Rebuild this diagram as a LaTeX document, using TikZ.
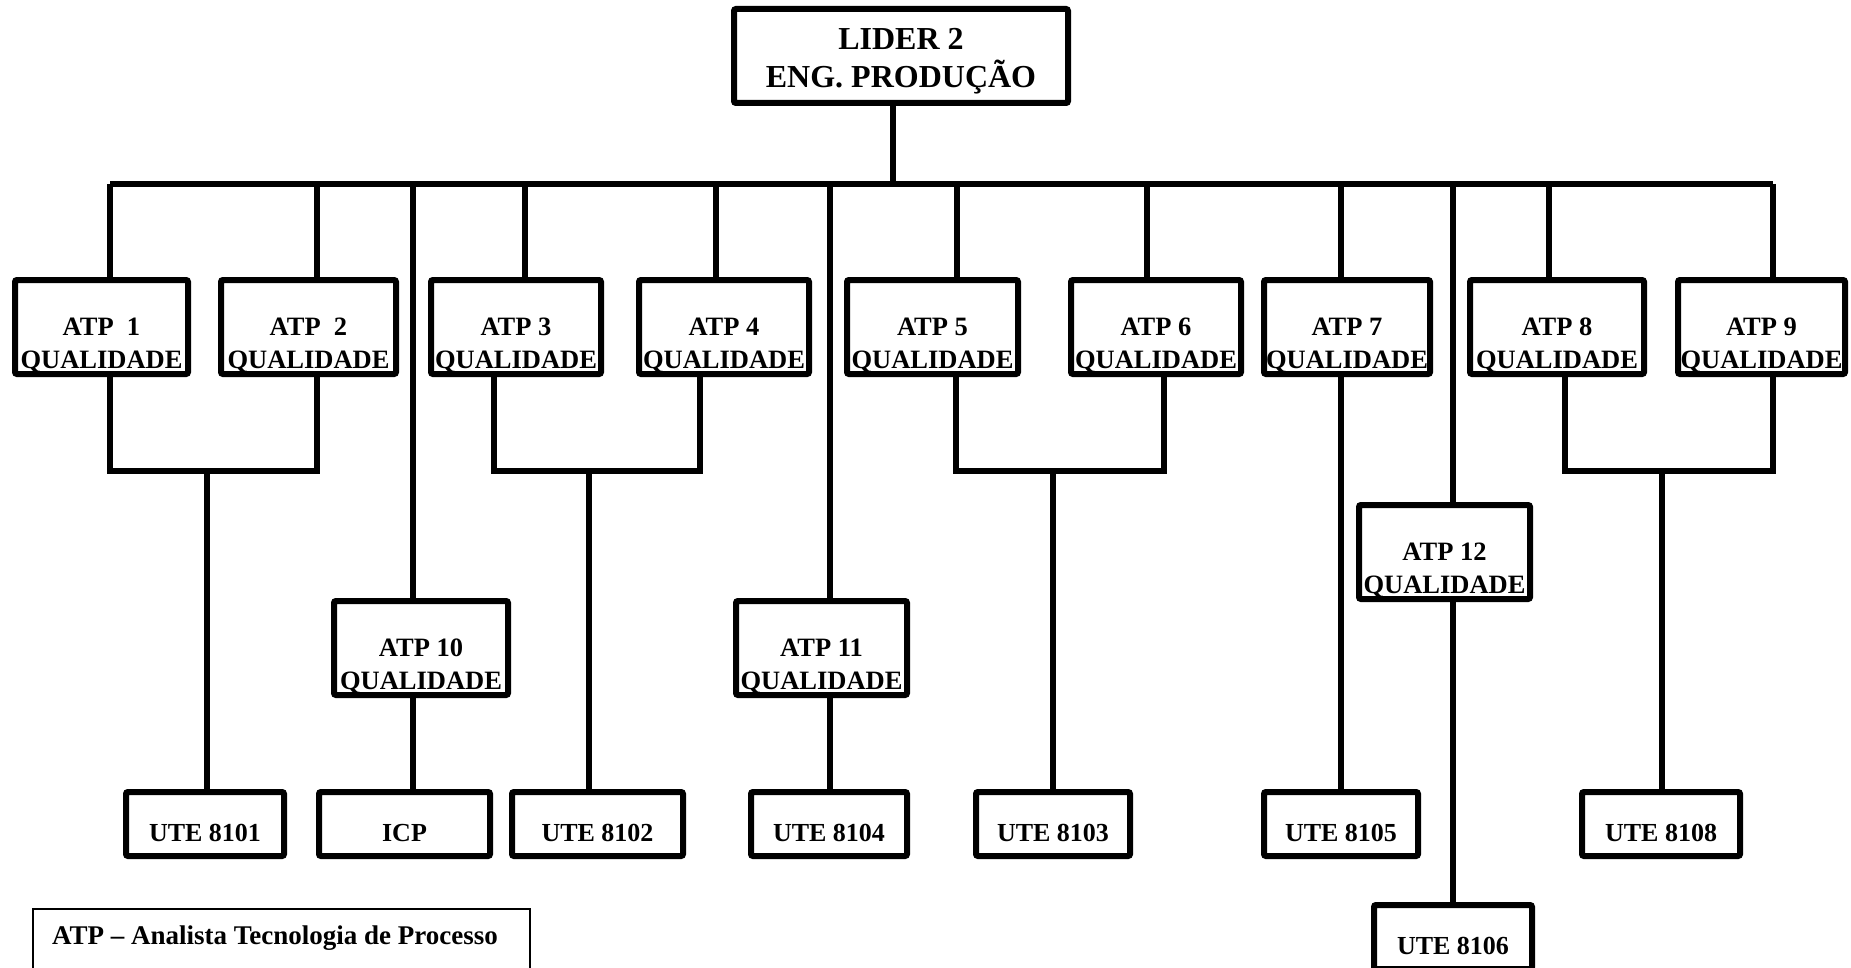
\documentclass[tikz,border=0pt]{standalone}
\usepackage{fontspec}
\setmainfont{Liberation Serif}
\newcommand\boxfont{\fontsize{26.5}{33}\selectfont\bfseries}
\newcommand\utefont{\fontsize{26}{33}\selectfont\bfseries}
\newcommand\topfont{\fontsize{32}{38}\selectfont\bfseries}
\newcommand\legfont{\fontsize{27}{30}\selectfont\bfseries}
\newcommand\twol[2]{\rule{0pt}{55pt}#1\\#2\rule[-4pt]{0pt}{4pt}}
\newcommand\onel[1]{\rule[-2pt]{0pt}{39pt}#1}
\begin{document}
\begin{tikzpicture}[x=1pt,y=-1pt,
  orgbox/.style={draw, line width=6pt, rounded corners=2pt, inner sep=0pt, align=center, fill=white},
  atpbox/.style={orgbox, font=\boxfont, minimum height=94pt},
  utebox/.style={orgbox, font=\utefont, minimum height=64pt},
  conn/.style={line width=5.5pt},
  busline/.style={line width=6pt}
]
\useasboundingbox (0,0) rectangle (1851,968);
\clip (0,0) rectangle (1851,968);

% top
\node[orgbox, font=\topfont, minimum width=334pt, minimum height=94pt] (lider) at (901,56)
  {\rule{0pt}{34pt}LIDER 2\\ENG. PRODUÇÃO\rule[-8pt]{0pt}{8pt}};

% ATP row
\node[atpbox, minimum width=173pt] (a1) at (101.5,327) {\twol{ATP\ \ 1}{QUALIDADE}};
\node[atpbox, minimum width=175pt] (a2) at (308.5,327) {\twol{ATP\ \ 2}{QUALIDADE}};
\node[atpbox, minimum width=170pt] (a3) at (516,327) {\twol{ATP 3}{QUALIDADE}};
\node[atpbox, minimum width=170pt] (a4) at (724,327) {\twol{ATP 4}{QUALIDADE}};
\node[atpbox, minimum width=171pt] (a5) at (932.5,327) {\twol{ATP 5}{QUALIDADE}};
\node[atpbox, minimum width=170pt] (a6) at (1156,327) {\twol{ATP 6}{QUALIDADE}};
\node[atpbox, minimum width=166pt] (a7) at (1347,327) {\twol{ATP 7}{QUALIDADE}};
\node[atpbox, minimum width=174pt] (a8) at (1557,327) {\twol{ATP 8}{QUALIDADE}};
\node[atpbox, minimum width=167pt] (a9) at (1761.5,327) {\twol{ATP 9}{QUALIDADE}};

% middle ATP
\node[atpbox, minimum width=174pt] (a10) at (421,648) {\twol{ATP 10}{QUALIDADE}};
\node[atpbox, minimum width=171pt] (a11) at (821.5,648) {\twol{ATP 11}{QUALIDADE}};
\node[atpbox, minimum width=171pt] (a12) at (1444.5,552) {\twol{ATP 12}{QUALIDADE}};

% UTE row
\node[utebox, minimum width=158pt] (u8101) at (205,824) {\onel{UTE 8101}};
\node[utebox, minimum width=171pt] (icp) at (404.5,824) {\onel{ICP}};
\node[utebox, minimum width=171pt] (u8102) at (597.5,824) {\onel{UTE 8102}};
\node[utebox, minimum width=156pt] (u8104) at (829,824) {\onel{UTE 8104}};
\node[utebox, minimum width=154pt] (u8103) at (1053,824) {\onel{UTE 8103}};
\node[utebox, minimum width=154pt] (u8105) at (1341,824) {\onel{UTE 8105}};
\node[utebox, minimum width=158pt] (u8108) at (1661,824) {\onel{UTE 8108}};
\node[utebox, minimum width=158pt] (u8106) at (1453,937) {\onel{UTE 8106}};

% legend
\node[draw, line width=2pt, anchor=north west, minimum width=497pt, minimum height=100pt, inner sep=0pt] (legend) at (32,908) {};
\node[font=\legfont, anchor=base west, inner sep=0pt] (legtxt) at (52,944) {ATP – Analista Tecnologia de Processo};

% bus and trunk
\coordinate (busL) at (110,184);
\coordinate (busR) at (1773,184);
\draw[busline] (busL) -- (busR);
\draw[conn] (lider.south -| 893,0) -- (busL -| 893,0);
\foreach \n/\x in {a1/110,a2/317,a3/525,a4/716,a5/957,a6/1147,a7/1341,a8/1549,a9/1773}
  \draw[conn] (busL -| \x,0) -- (\n.north -| \x,0);

% straight lines through the middle boxes
\draw[conn] (busL -| 413,0) -- (a10.north -| 413,0);
\draw[conn] (a10.south -| 413,0) -- (icp.north -| 413,0);
\draw[conn] (busL -| 830,0) -- (a11.north -| 830,0);
\draw[conn] (a11.south -| 830,0) -- (u8104.north -| 830,0);
\draw[conn] (busL -| 1453,0) -- (a12.north -| 1453,0);
\draw[conn] (a12.south -| 1453,0) -- (u8106.north -| 1453,0);
\draw[conn] (a7.south -| 1341,0) -- (u8105.north -| 1341,0);

% pair joins
\coordinate (j1) at (207,471);
\coordinate (j2) at (589,471);
\coordinate (j3) at (1053,471);
\coordinate (j4) at (1662,471);
\draw[conn] (a1.south -| 110,0) |- (j1) -| (a2.south -| 317,0);
\draw[conn] (j1) -- (u8101.north -| j1);
\draw[conn] (a3.south -| 494,0) |- (j2) -| (a4.south -| 700,0);
\draw[conn] (j2) -- (u8102.north -| j2);
\draw[conn] (a5.south -| 956,0) |- (j3) -| (a6.south -| 1164,0);
\draw[conn] (j3) -- (u8103.north -| j3);
\draw[conn] (a8.south -| 1565,0) |- (j4) -| (a9.south -| 1773,0);
\draw[conn] (j4) -- (u8108.north -| j4);
\end{tikzpicture}
\end{document}
